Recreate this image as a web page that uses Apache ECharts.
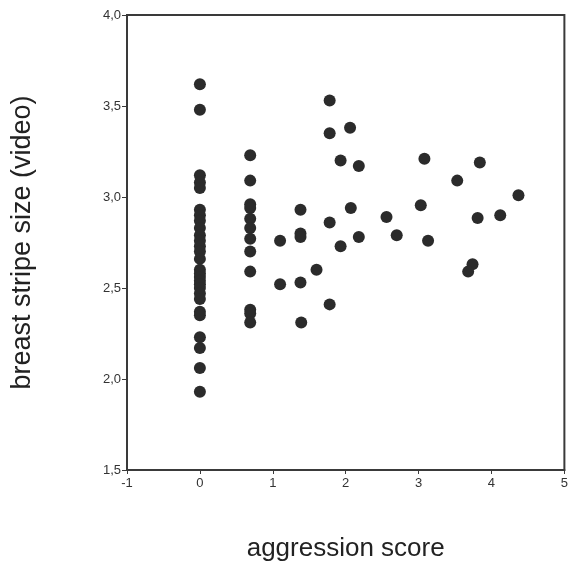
<!DOCTYPE html>
<html>
<head>
<meta charset="utf-8">
<script src="https://cdn.jsdelivr.net/npm/echarts@6/dist/echarts.min.js"></script>
<style>
  html, body { margin: 0; padding: 0; background: #fff; }
  #chart { width: 571px; height: 570px; }
</style>
</head>
<body>
<div id="chart"></div>
<script>
// aggression score (x) vs breast stripe size (y)
var xZero = [0, 0, 0, 0, 0, 0, 0, 0, 0, 0, 0, 0, 0, 0, 0, 0, 0, 0, 0, 0, 0, 0, 0, 0, 0, 0, 0, 0];
var yZero = [3.62, 3.48, 3.12, 3.08, 3.05, 2.93, 2.90, 2.87, 2.83, 2.79, 2.76, 2.73, 2.70, 2.66,
  2.60, 2.58, 2.56, 2.54, 2.52, 2.50, 2.47, 2.44, 2.37, 2.35, 2.23, 2.17, 2.06, 1.93];

var xLn2 = [0.69, 0.69, 0.69, 0.69, 0.69, 0.69, 0.69, 0.69, 0.69, 0.69, 0.69, 0.69];
var yLn2 = [3.23, 3.09, 2.96, 2.94, 2.88, 2.83, 2.77, 2.70, 2.59, 2.38, 2.36, 2.31];

var xRest = [1.78, 1.78, 2.06, 1.93, 2.18, 3.08, 3.84, 3.53, 4.37, 1.38, 2.07, 1.78, 2.56, 3.03,
  3.81, 4.12, 1.38, 1.38, 1.10, 1.93, 2.18, 2.70, 3.13, 1.60, 1.10, 1.38, 3.74, 3.68, 1.78, 1.39];
var yRest = [3.53, 3.35, 3.38, 3.20, 3.17, 3.21, 3.19, 3.09, 3.01, 2.93, 2.94, 2.86, 2.89, 2.955,
  2.885, 2.90, 2.80, 2.78, 2.76, 2.73, 2.78, 2.79, 2.76, 2.60, 2.52, 2.53, 2.63, 2.59, 2.41, 2.31];

var xTicks = [-1, 0, 1, 2, 3, 4, 5];
var yTicks = ['1,5', '2,0', '2,5', '3,0', '3,5', '4,0'];

function pairs(xs, ys) {
  return xs.map(function (x, i) { return [x, ys[i]]; });
}

var points = pairs(xZero, yZero).concat(pairs(xLn2, yLn2), pairs(xRest, yRest));

var chart = echarts.init(document.getElementById('chart'), null, { renderer: 'canvas' });

var axisColor = '#3a3a3a';

chart.setOption({
  backgroundColor: '#fff',
  animation: false,
  grid: {
    left: 127, top: 15, right: 5, bottom: 100,
    show: true, borderColor: axisColor, borderWidth: 2, backgroundColor: 'transparent'
  },
  xAxis: {
    type: 'value',
    min: xTicks[0],
    max: xTicks[xTicks.length - 1],
    interval: 1,
    name: 'aggression score',
    nameLocation: 'middle',
    nameGap: 66,
    nameTextStyle: { fontFamily: 'Liberation Sans', fontSize: 26, color: '#222' },
    axisLine: { show: true, onZero: false, lineStyle: { color: axisColor, width: 2 } },
    axisTick: { show: true, length: 4, lineStyle: { color: axisColor } },
    axisLabel: { fontFamily: 'Liberation Sans', fontSize: 13, color: '#333', margin: 7 },
    splitLine: { show: false }
  },
  yAxis: {
    type: 'value',
    min: 1.5,
    max: 4.0,
    interval: 0.5,
    name: 'breast stripe size (video)',
    nameLocation: 'middle',
    nameGap: 91,
    nameTextStyle: { fontFamily: 'Liberation Sans', fontSize: 27, color: '#222' },
    axisLine: { show: true, onZero: false, lineStyle: { color: axisColor, width: 2 } },
    axisTick: { show: true, length: 5, lineStyle: { color: axisColor } },
    axisLabel: {
      fontFamily: 'Liberation Sans', fontSize: 13, color: '#333', margin: 6,
      formatter: function (v) { return yTicks[Math.round((v - 1.5) / 0.5)]; }
    },
    splitLine: { show: false }
  },
  series: [{
    type: 'scatter',
    data: points,
    symbol: 'circle',
    symbolSize: 12,
    itemStyle: { color: '#2b2b2b', opacity: 1 }
  }]
});

window.addEventListener('resize', function () {
  chart.resize();
});
</script>
</body>
</html>
